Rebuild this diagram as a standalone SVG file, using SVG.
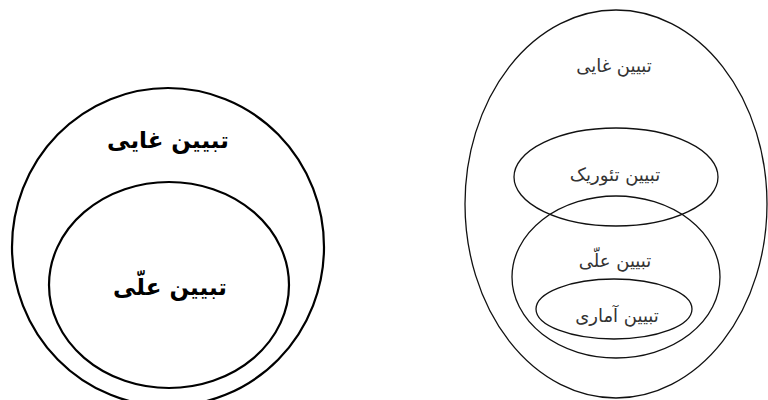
<svg xmlns="http://www.w3.org/2000/svg" width="768" height="400" viewBox="0 0 768 400">
<style>
.bold{fill:none;stroke:#000;stroke-width:2.2}
.thin{fill:none;stroke:#111;stroke-width:1.3}
.tl{font-family:"DejaVu Sans",sans-serif;font-weight:bold;font-size:23px;fill:#000;text-anchor:middle}
.tr{font-family:"DejaVu Sans",sans-serif;font-size:18px;fill:#333;text-anchor:middle}
</style>
<rect width="768" height="400" fill="#fff"/>
<g id="left-final">
<ellipse class="bold" cx="168" cy="247" rx="156" ry="159"/>
<text class="tl" x="168" y="148" direction="rtl">تبیین غایی</text>
</g>
<g id="left-causal">
<ellipse class="bold" cx="169" cy="285" rx="120" ry="103"/>
<text class="tl" x="170" y="295" direction="rtl">تبیین علّی</text>
</g>
<g id="right-final">
<ellipse class="thin" cx="616" cy="204" rx="151" ry="194"/>
<text class="tr" x="614" y="72" direction="rtl">تبیین غایی</text>
</g>
<g id="right-theoretic">
<ellipse class="thin" cx="616" cy="177" rx="102" ry="49"/>
<text class="tr" x="615" y="181" direction="rtl">تبیین تئوریک</text>
</g>
<g id="right-causal">
<ellipse class="thin" cx="616" cy="277" rx="104" ry="81"/>
<text class="tr" x="615" y="267" direction="rtl">تبیین علّی</text>
</g>
<g id="right-statistical">
<ellipse class="thin" cx="614" cy="309" rx="78" ry="30"/>
<text class="tr" x="617" y="322" direction="rtl">تبیین آماری</text>
</g>
<g id="connectors"></g>
</svg>
